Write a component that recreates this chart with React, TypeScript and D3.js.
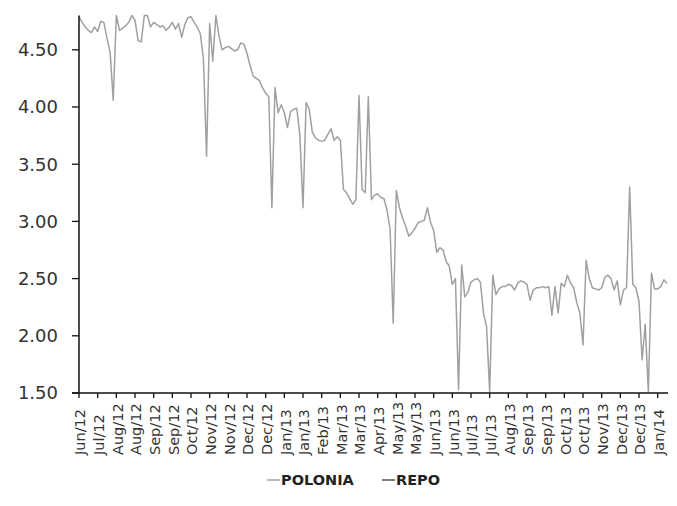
import React from "react";
import * as d3 from "d3";

const polonia: number[] = [
  4.79, 4.74, 4.70, 4.67, 4.65, 4.70, 4.66, 4.75, 4.74, 4.60,
  4.48, 4.06, 4.80, 4.67, 4.69, 4.71, 4.74, 4.80, 4.76, 4.58,
  4.57, 4.80, 4.80, 4.70, 4.74, 4.72, 4.70, 4.71, 4.67, 4.70,
  4.74, 4.68, 4.73, 4.61, 4.72, 4.78, 4.79, 4.74, 4.70, 4.64,
  4.42, 3.57, 4.73, 4.40, 4.80, 4.62, 4.50, 4.52, 4.53, 4.51,
  4.49, 4.50, 4.56, 4.55, 4.47, 4.36, 4.27, 4.25, 4.23, 4.17,
  4.12, 4.09, 3.12, 4.17, 3.95, 4.02, 3.95, 3.82, 3.96, 3.98,
  3.99, 3.75, 3.12, 4.04, 3.98, 3.78, 3.73, 3.71, 3.70, 3.71,
  3.76, 3.81, 3.71, 3.74, 3.71, 3.28, 3.25, 3.20, 3.15, 3.19,
  4.10, 3.28, 3.25, 4.09, 3.19, 3.23, 3.24, 3.21, 3.20, 3.10,
  2.93, 2.11, 3.27, 3.12, 3.03, 2.96, 2.87, 2.90, 2.94, 2.99,
  3.00, 3.01, 3.12, 2.99, 2.92, 2.73, 2.77, 2.75, 2.65, 2.61,
  2.45, 2.50, 1.53, 2.62, 2.34, 2.38, 2.47, 2.49, 2.50, 2.47,
  2.20, 2.08, 1.51, 2.53, 2.36, 2.41, 2.43, 2.43, 2.45, 2.44,
  2.40, 2.46, 2.48, 2.47, 2.45, 2.31, 2.40, 2.42, 2.42, 2.43,
  2.42, 2.43, 2.18, 2.43, 2.20, 2.46, 2.43, 2.53, 2.46, 2.42,
  2.29, 2.20, 1.92, 2.66, 2.50, 2.42, 2.41, 2.40, 2.42, 2.51,
  2.53, 2.50, 2.40, 2.48, 2.27, 2.40, 2.42, 3.30, 2.45, 2.42,
  2.30, 1.79, 2.10, 1.51, 2.55, 2.41, 2.41, 2.43, 2.49, 2.46,
];

const tickLabels: string[] = [
  "Jun/12", "Jul/12", "Aug/12", "Aug/12", "Sep/12", "Sep/12", "Oct/12", "Nov/12",
  "Nov/12", "Dec/12", "Dec/12", "Jan/13", "Jan/13", "Feb/13", "Mar/13", "Mar/13",
  "Apr/13", "May/13", "May/13", "Jun/13", "Jun/13", "Jul/13", "Jul/13", "Aug/13",
  "Sep/13", "Sep/13", "Oct/13", "Oct/13", "Nov/13", "Dec/13", "Dec/13", "Jan/14",
];
const tickEvery = 6;

const yTicks: number[] = [1.5, 2.0, 2.5, 3.0, 3.5, 4.0, 4.5];

const seriesNames: string[] = ["POLONIA", "REPO"];
const seriesColors: string[] = ["#a0a0a0", "#555555"];

const W = 677;
const H = 506;
const FONT = "'DejaVu Sans', Verdana, sans-serif";

export default function App() {
  const x = d3.scaleLinear().domain([0, polonia.length - 1]).range([79, 667]);
  const y = d3.scaleLinear().domain([1.5, 4.8]).range([393, 15.5]);
  const line = d3
    .line<number>()
    .x((_, i) => x(i))
    .y((d) => y(d));

  const xAxisEnd = 668;

  return (
    <svg
      width={W}
      height={H}
      style={{ position: "absolute", left: 0, top: 0, background: "#fff", display: "block" }}
    >
      <path d={line(polonia) || ""} fill="none" stroke={seriesColors[0]} strokeWidth={1.5} strokeLinejoin="round" />

      {/* y axis */}
      <line x1={x(0)} x2={x(0)} y1={y(4.8)} y2={y(1.5)} stroke="#111" strokeWidth={1.5} />
      {yTicks.map((t) => (
        <g key={t}>
          <line x1={x(0) - 7} x2={x(0)} y1={y(t)} y2={y(t)} stroke="#111" strokeWidth={1.3} />
          <text
            x={x(0) - 21}
            y={y(t)}
            dy="0.36em"
            textAnchor="end"
            fontFamily={FONT}
            fontSize={18}
            fill="#333"
          >
            {d3.format(".2f")(t)}
          </text>
        </g>
      ))}

      {/* x axis */}
      <line x1={x(0) - 7} x2={xAxisEnd} y1={y(1.5)} y2={y(1.5)} stroke="#111" strokeWidth={1.5} />
      {tickLabels.map((lab, k) => {
        const px = x(k * tickEvery);
        return (
          <g key={k}>
            <line x1={px} x2={px} y1={y(1.5)} y2={y(1.5) + 5} stroke="#111" strokeWidth={1.3} />
            <text
              transform={`translate(${px + 1},455) rotate(-90)`}
              dy="0.36em"
              textAnchor="start"
              fontFamily={FONT}
              fontSize={14.5}
              fill="#333"
            >
              {lab}
            </text>
          </g>
        );
      })}

      {/* legend */}
      {seriesNames.map((name, i) => {
        const lx = i === 0 ? 267 : 382;
        return (
          <g key={name}>
            <line x1={lx} x2={lx + 13} y1={480} y2={480} stroke={seriesColors[i]} strokeWidth={1.5} />
            <text
              x={lx + 14}
              y={480}
              dy="0.36em"
              fontFamily={FONT}
              fontSize={14.5}
              fontWeight="bold"
              fill="#222"
            >
              {name}
            </text>
          </g>
        );
      })}
    </svg>
  );
}
